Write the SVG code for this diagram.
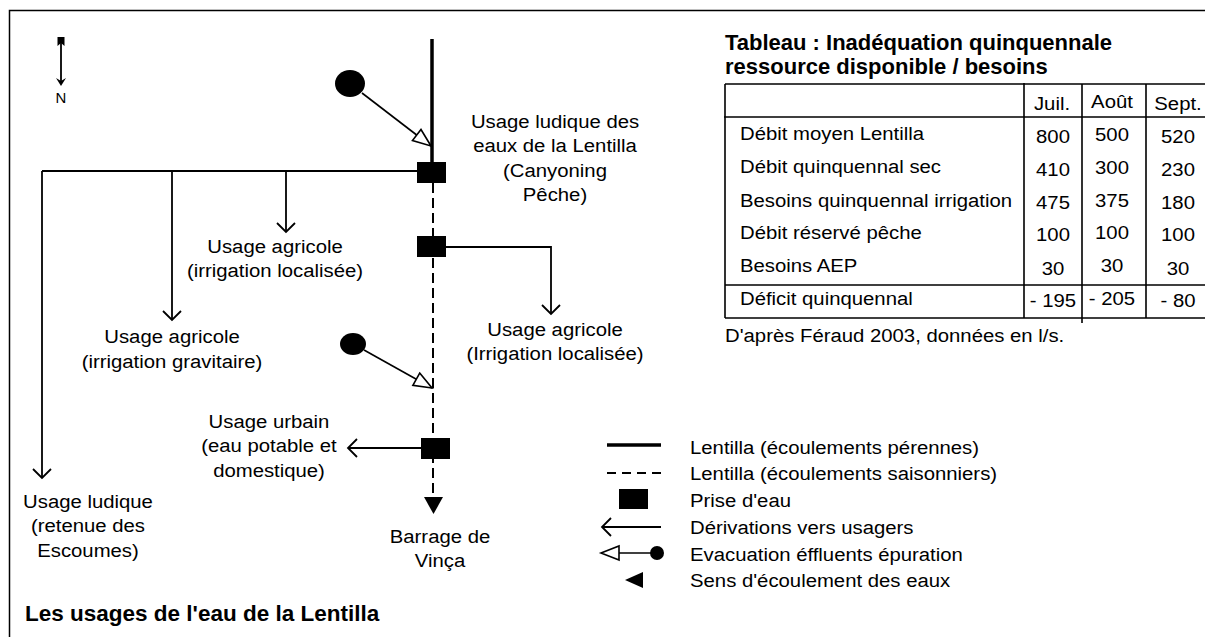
<svg xmlns="http://www.w3.org/2000/svg" width="1205" height="637" viewBox="0 0 1205 637">
<style>
.t{font-family:"Liberation Sans",Arial,sans-serif;font-size:19px;fill:#000}
.b{font-family:"Liberation Sans",Arial,sans-serif;font-weight:bold;fill:#000}
.ln{stroke:#000;stroke-width:1.8;fill:none}
.tb{stroke:#000;stroke-width:1.6;fill:none}
.sq{fill:#000}
.eff{stroke:#000;stroke-width:1.6;fill:none;marker-end:url(#tri)}
.der{stroke:#000;stroke-width:1.8;fill:none;marker-end:url(#v)}
</style>
<defs>
<marker id="v" markerUnits="userSpaceOnUse" markerWidth="22" markerHeight="22" refX="11" refY="11" orient="auto" overflow="visible">
<path d="M2,2 L11,11 L2,20" fill="none" stroke="#000" stroke-width="1.8"/>
</marker>
<marker id="tri" markerUnits="userSpaceOnUse" markerWidth="22" markerHeight="18" refX="20" refY="9" orient="auto" overflow="visible">
<path d="M2,2 L20,9 L2,16 Z" fill="#fff" stroke="#000" stroke-width="1.6"/>
</marker>
</defs>
<rect x="0" y="0" width="1205" height="637" fill="#fff"/>
<rect x="9.5" y="10.5" width="1210" height="640" fill="none" stroke="#000" stroke-width="1.5"/>

<g id="compass">
<line x1="61" y1="40" x2="61" y2="82" stroke="#000" stroke-width="1.8"/>
<path d="M57.5,37 L64.5,37 L64.5,46 L61,43 L57.5,46 Z" fill="#000"/>
<path d="M56,78 L61,86 L66,78 L61,81 Z" fill="#000"/>
<text class="t" text-anchor="middle" transform="translate(61,103) scale(1.07,1)" style="font-size:14px">N</text>
</g>

<g id="connectors">
<line x1="432" y1="39" x2="432" y2="166" stroke="#000" stroke-width="3.5"/>
<line x1="433" y1="183" x2="433" y2="498" stroke="#000" stroke-width="2" stroke-dasharray="10,5"/>
<path d="M42,171 L417,171" class="ln"/>
<path d="M42,171 L42,478" class="der"/>
<path d="M172,171 L172,320" class="der"/>
<path d="M286,171 L286,232" class="der"/>
<path d="M446,247 L551,247 L551,314" class="der"/>
<path d="M421,448 L348,448" class="der"/>
<path d="M362,93 L431,146" class="eff"/>
<path d="M364,350 L432,388" class="eff"/>
</g>

<g id="effluent1"><ellipse cx="350" cy="83.5" rx="15" ry="13.5" fill="#000"/></g>
<g id="effluent2"><ellipse cx="353" cy="344" rx="13" ry="11" fill="#000"/></g>
<g id="prise1"><rect class="sq" x="417" y="162" width="29" height="21"/></g>
<g id="prise2"><rect class="sq" x="417" y="236" width="29" height="21"/></g>
<g id="prise3"><rect class="sq" x="421" y="438" width="29" height="21"/></g>
<g id="barrage">
<path d="M424,497 L443,497 L433.5,514 Z" fill="#000"/>
<text class="t" text-anchor="middle" transform="translate(440,543) scale(1.07,1)"><tspan x="0">Barrage de</tspan><tspan x="0" dy="24">Vinça</tspan></text>
</g>

<g id="usage-ludique-lentilla">
<text class="t" text-anchor="middle" transform="translate(555,128) scale(1.07,1)"><tspan x="0">Usage ludique des</tspan><tspan x="0" dy="24.5">eaux de la Lentilla</tspan><tspan x="0" dy="24.5">(Canyoning</tspan><tspan x="0" dy="24.5">Pêche)</tspan></text>
</g>
<g id="usage-agricole-1">
<text class="t" text-anchor="middle" transform="translate(275,253) scale(1.07,1)"><tspan x="0">Usage agricole</tspan><tspan x="0" dy="24.5">(irrigation localisée)</tspan></text>
</g>
<g id="usage-agricole-2">
<text class="t" text-anchor="middle" transform="translate(555,336) scale(1.07,1)"><tspan x="0">Usage agricole</tspan><tspan x="0" dy="24">(Irrigation localisée)</tspan></text>
</g>
<g id="usage-agricole-gravitaire">
<text class="t" text-anchor="middle" transform="translate(172,343) scale(1.07,1)"><tspan x="0">Usage agricole</tspan><tspan x="0" dy="25">(irrigation gravitaire)</tspan></text>
</g>
<g id="usage-urbain">
<text class="t" text-anchor="middle" transform="translate(269,428) scale(1.07,1)"><tspan x="0">Usage urbain</tspan><tspan x="0" dy="24.5">(eau potable et</tspan><tspan x="0" dy="24.5">domestique)</tspan></text>
</g>
<g id="usage-ludique-escoumes">
<text class="t" text-anchor="middle" transform="translate(88,508) scale(1.07,1)"><tspan x="0">Usage ludique</tspan><tspan x="0" dy="24.5">(retenue des</tspan><tspan x="0" dy="24.5">Escoumes)</tspan></text>
</g>

<g id="titre">
<text class="b" x="25" y="621" style="font-size:22.5px">Les usages de l'eau de la Lentilla</text>
</g>

<g id="tableau">
<text class="b" x="725" y="50" style="font-size:22px">Tableau : Inadéquation quinquennale</text>
<text class="b" x="725" y="74" style="font-size:22px">ressource disponible / besoins</text>
<path class="tb" d="M725,84 L1210,84 M724,117 L1210,117 M725,285 L1210,285 M725,318 L1210,318 M725,84 L725,318 M1024,83 L1024,318 M1082,84 L1082,323 M1146,84 L1146,318"/>
<g class="t" text-anchor="middle">
<text transform="translate(1052,110) scale(1.07,1)">Juil.</text>
<text transform="translate(1112,108) scale(1.07,1)">Août</text>
<text transform="translate(1178,110) scale(1.07,1)">Sept.</text>
<text transform="translate(1053,143) scale(1.07,1)">800</text>
<text transform="translate(1112,141) scale(1.07,1)">500</text>
<text transform="translate(1178,143) scale(1.07,1)">520</text>
<text transform="translate(1053,176) scale(1.07,1)">410</text>
<text transform="translate(1112,174) scale(1.07,1)">300</text>
<text transform="translate(1178,176) scale(1.07,1)">230</text>
<text transform="translate(1053,209) scale(1.07,1)">475</text>
<text transform="translate(1112,207) scale(1.07,1)">375</text>
<text transform="translate(1178,209) scale(1.07,1)">180</text>
<text transform="translate(1053,241) scale(1.07,1)">100</text>
<text transform="translate(1112,239) scale(1.07,1)">100</text>
<text transform="translate(1178,241) scale(1.07,1)">100</text>
<text transform="translate(1053,275) scale(1.07,1)">30</text>
<text transform="translate(1112,272) scale(1.07,1)">30</text>
<text transform="translate(1178,275) scale(1.07,1)">30</text>
<text transform="translate(1053,307) scale(1.07,1)">- 195</text>
<text transform="translate(1112,305) scale(1.07,1)">- 205</text>
<text transform="translate(1178,307) scale(1.07,1)">- 80</text>
</g>
<g class="t">
<text transform="translate(740,140) scale(1.07,1)">Débit moyen Lentilla</text>
<text transform="translate(740,173) scale(1.07,1)">Débit quinquennal sec</text>
<text transform="translate(740,207) scale(1.07,1)">Besoins quinquennal irrigation</text>
<text transform="translate(740,239) scale(1.07,1)">Débit réservé pêche</text>
<text transform="translate(740,272) scale(1.07,1)">Besoins AEP</text>
<text transform="translate(740,305) scale(1.07,1)">Déficit quinquennal</text>
<text transform="translate(725,342) scale(1.07,1)">D'après Féraud 2003, données en l/s.</text>
</g>
</g>

<g id="legende">
<line x1="607" y1="445" x2="661" y2="445" stroke="#000" stroke-width="3.5"/>
<line x1="607" y1="473" x2="661" y2="473" stroke="#000" stroke-width="2" stroke-dasharray="9,6"/>
<rect class="sq" x="619" y="489" width="29" height="20"/>
<path d="M661,527 L602,527" class="der"/>
<path d="M655,553 L601,553" class="eff"/>
<circle cx="657" cy="553" r="7" fill="#000"/>
<path d="M625,580 L643,572 L643,588 Z" fill="#000"/>
<g class="t">
<text transform="translate(690,454) scale(1.07,1)">Lentilla (écoulements pérennes)</text>
<text transform="translate(690,480) scale(1.07,1)">Lentilla (écoulements saisonniers)</text>
<text transform="translate(690,507) scale(1.07,1)">Prise d'eau</text>
<text transform="translate(690,534) scale(1.07,1)">Dérivations vers usagers</text>
<text transform="translate(690,561) scale(1.07,1)">Evacuation éffluents épuration</text>
<text transform="translate(690,587) scale(1.07,1)">Sens d'écoulement des eaux</text>
</g>
</g>
</svg>
